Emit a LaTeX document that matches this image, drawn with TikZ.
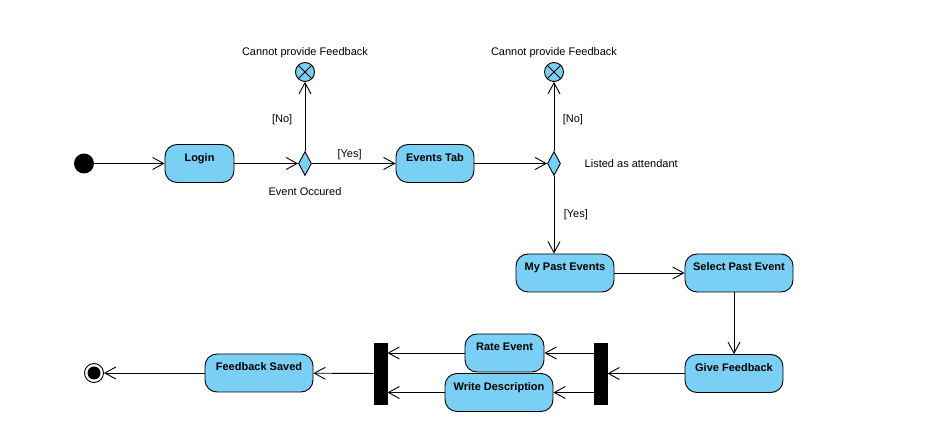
\documentclass[tikz,border=0pt]{standalone}
\usepackage{fontspec}
\setmainfont{Liberation Sans}
\usepackage{xcolor}
\usetikzlibrary{arrows.meta,shapes.geometric}
\definecolor{actblue}{RGB}{122,207,245}
\tikzset{
	action/.style={
			draw, fill=actblue, rounded corners=12pt, inner sep=0pt,
			text height=17pt, text depth=21pt, font=\bfseries\fontsize{11}{13}\selectfont
		},
	decision/.style={draw, fill=actblue, diamond, inner sep=0pt, minimum width=13pt, minimum height=24pt},
	syncbar/.style={draw, fill=black, inner sep=0pt, minimum width=13pt, minimum height=61pt},
	flowend/.style={draw, fill=actblue, circle, inner sep=0pt, minimum size=19pt},
	guard/.style={font=\fontsize{11}{13}\selectfont}
}

\begin{document}
\begin{tikzpicture}[x=1pt, y=-1pt, line width=0.9pt, >={Straight Barb[length=11pt,width=12pt]}, font=\fontsize{11}{13}\selectfont]
		\useasboundingbox (0,0) rectangle (937,443);

		% Initial node and first action
		\node[circle, fill=black, minimum size=20pt, inner sep=0pt] (start) at (84,163.5) {};
		\node[action, minimum width=69pt] (login) at (199.5,163.5) {Login};

		% First decision with its flow final
		\node[decision, label={[guard, label distance=8pt]below:Event Occured}] (occur) at (305,163.5) {};
		\node[flowend, label={[guard]above:Cannot provide Feedback}] (stop1) at (305,72) {};
		\draw (stop1.north east) -- (stop1.south west) (stop1.north west) -- (stop1.south east);

		% Events tab and second decision
		\node[action, minimum width=78pt] (evtab) at (435,163.5) {Events Tab};
		\node[decision, label={[guard, label distance=20pt]right:Listed as attendant}] (listed) at (554,163.5) {};
		\node[flowend, label={[guard]above:Cannot provide Feedback}] (stop2) at (554,72) {};
		\draw (stop2.north east) -- (stop2.south west) (stop2.north west) -- (stop2.south east);

		% Past events
		\node[action, minimum width=98pt] (mypast) at (565,273) {My Past Events};
		\node[action, minimum width=108pt] (selpast) at (739,273) {Select Past Event};
		\node[action, minimum width=98pt] (givefb) at (734,373.5) {Give Feedback};

		% Fork, parallel actions and join
		\node[syncbar] (fork) at (600.5,373.5) {};
		\node[action, minimum width=79pt] (rate) at (504.5,353) {Rate Event};
		\node[action, minimum width=108pt] (write) at (499,392.5) {Write Description};
		\node[syncbar] (join) at (380.5,373.5) {};
		\node[action, minimum width=108pt] (saved) at (259,373) {Feedback Saved};

		% Activity final
		\node[circle, draw, fill=white, minimum size=19pt, inner sep=0pt] (final) at (94,373) {};
		\node[circle, fill=black, minimum size=13pt, inner sep=0pt] (finaldot) at (final) {};

		% Control flows
		\draw[->] (start) -- (login);
		\draw[->] (login) -- (occur);
		\draw[->] (occur) -- node[guard, above, pos=0.45] {[Yes]} (evtab);
		\draw[->] (occur) -- node[guard, left=9pt, pos=0.45] {[No]} (stop1);
		\draw[->] (evtab) -- (listed);
		\draw[->] (listed) -- node[guard, right=5pt, pos=0.45] {[No]} (stop2);
		\draw[->] (listed) -- node[guard, right=6pt] {[Yes]} (listed |- mypast.north);
		\draw[->] (mypast) -- (selpast);
		\draw[->] (selpast.south -| givefb.north) -- (givefb.north);
		\draw[->] (givefb) -- (fork);
		\draw[->] (fork.west |- rate) -- (rate);
		\draw[->] (fork.west |- write) -- (write);
		\draw[->] (rate) -- (join.east |- rate);
		\draw[->] (write) -- (join.east |- write);
		\draw[->] (join) -- (saved);
		\draw[->] (saved) -- (final);
	\end{tikzpicture}
\end{document}
